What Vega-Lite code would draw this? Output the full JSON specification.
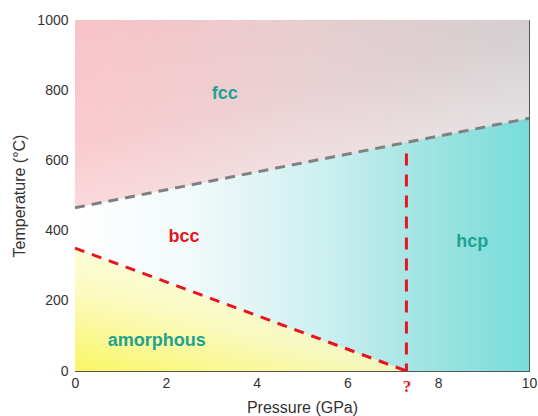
{
  "$schema": "https://vega.github.io/schema/vega-lite/v6.json",
  "width": 454,
  "height": 351,
  "autosize": "none",
  "padding": {"left": 75, "top": 20, "right": 9, "bottom": 45},
  "config": {
    "view": {"stroke": "#555555", "strokeWidth": 1},
    "font": "Liberation Sans",
    "axis": {
      "zindex": 1,
      "domainColor": "#555555",
      "tickColor": "#555555",
      "labelColor": "#333333",
      "titleColor": "#333333",
      "labelFont": "Liberation Sans",
      "titleFont": "Liberation Sans",
      "labelFontSize": 13,
      "titleFontSize": 16,
      "titleFontWeight": "normal",
      "labelFlush": false,
      "grid": false
    }
  },
  "layer": [
    {
      "data": {"values": [{"P0": 0, "P1": 10, "T0": 0, "T1": 1000}]},
      "mark": {
        "type": "rect",
        "fill": {
          "gradient": "linear", "x1": 0, "y1": 0, "x2": 1, "y2": 0,
          "stops": [
            {"offset": 0, "color": "#ffffff"},
            {"offset": 0.25, "color": "#f2fafa"},
            {"offset": 0.55, "color": "#cdeff0"},
            {"offset": 0.75, "color": "#a4e5e4"},
            {"offset": 1, "color": "#78dcd9"}
          ]
        }
      },
      "encoding": {
        "x": {"field": "P0", "type": "quantitative", "scale": {"domain": [0, 10], "nice": false},
          "axis": {
            "title": "Pressure (GPa)",
            "values": [0, 1, 2, 3, 4, 5, 6, 7, 7.3, 8, 9, 10],
            "labelExpr": "datum.value == 7.3 ? '?' : (datum.value % 2 == 0 ? datum.label : '')",
            "labelColor": {"condition": {"test": "datum.value == 7.3", "value": "#e8151f"}, "value": "#333333"},
            "labelFont": {"condition": {"test": "datum.value == 7.3", "value": "Liberation Serif"}, "value": "Liberation Sans"},
            "labelFontWeight": {"condition": {"test": "datum.value == 7.3", "value": "bold"}, "value": "normal"},
            "labelFontSize": {"condition": {"test": "datum.value == 7.3", "value": 17}, "value": 14},
            "tickOpacity": {"condition": {"test": "datum.value == 7.3", "value": 0}, "value": 1},
            "tickSize": {"condition": {"test": "datum.value % 2 == 0", "value": -5}, "value": -3},
            "labelFlush": false,
            "labelPadding": 10,
            "titleFontSize": 16,
            "titlePadding": 5
          }
        },
        "x2": {"field": "P1"},
        "y": {"field": "T0", "type": "quantitative", "scale": {"domain": [0, 1000], "nice": false},
          "axis": {
            "title": "Temperature (°C)",
            "values": [0, 100, 200, 300, 400, 500, 600, 700, 800, 900, 1000],
            "labelExpr": "datum.value % 200 == 0 ? datum.label : ''",
            "format": "d",
            "labelFontSize": 14,
            "labelFlush": false,
            "tickSize": {"condition": {"test": "datum.value % 200 == 0", "value": -5}, "value": -3},
            "labelPadding": 12,
            "titleFontSize": 16,
            "titlePadding": 9
          }
        },
        "y2": {"field": "T1"}
      }
    },
    {
      "data": {"values": [{"P": 0, "T": 465}, {"P": 10, "T": 720}]},
      "mark": {
        "type": "area",
        "fill": {
          "gradient": "linear", "x1": 0, "y1": 0, "x2": 1, "y2": 0,
          "stops": [
            {"offset": 0, "color": "#f9c3c8"},
            {"offset": 0.5, "color": "#e6c9cc"},
            {"offset": 1, "color": "#cdc8c9"}
          ]
        }
      },
      "encoding": {
        "x": {"field": "P", "type": "quantitative"},
        "y": {"field": "T", "type": "quantitative"},
        "y2": {"datum": 1000}
      }
    },
    {
      "data": {"values": [{"P": 0, "T": 465}, {"P": 10, "T": 720}]},
      "mark": {
        "type": "area",
        "fill": {
          "gradient": "linear", "x1": 0, "y1": 0, "x2": 0.6, "y2": 1,
          "stops": [
            {"offset": 0, "color": "rgba(255,255,255,0)"},
            {"offset": 0.5, "color": "rgba(255,255,255,0.15)"},
            {"offset": 1, "color": "rgba(255,255,255,0.6)"}
          ]
        }
      },
      "encoding": {
        "x": {"field": "P", "type": "quantitative"},
        "y": {"field": "T", "type": "quantitative"},
        "y2": {"datum": 1000}
      }
    },
    {
      "data": {"values": [{"P": 0, "T": 350}, {"P": 7.3, "T": 0}]},
      "mark": {
        "type": "area",
        "fill": {
          "gradient": "linear", "x1": 0, "y1": 1, "x2": 0.7, "y2": 0,
          "stops": [
            {"offset": 0, "color": "rgba(250,246,100,1)"},
            {"offset": 0.45, "color": "rgba(251,250,185,0.9)"},
            {"offset": 1, "color": "rgba(255,255,225,0.5)"}
          ]
        }
      },
      "encoding": {
        "x": {"field": "P", "type": "quantitative"},
        "y": {"field": "T", "type": "quantitative"},
        "y2": {"datum": 0}
      }
    },
    {
      "data": {"values": [{"P": 0, "T": 465}, {"P": 10, "T": 720}]},
      "mark": {"type": "line", "color": "#808080", "strokeWidth": 3, "strokeDash": [10, 7]},
      "encoding": {
        "x": {"field": "P", "type": "quantitative"},
        "y": {"field": "T", "type": "quantitative"}
      }
    },
    {
      "data": {"values": [{"P": 0, "T": 350}, {"P": 7.3, "T": 0}]},
      "mark": {"type": "line", "color": "#e8151f", "strokeWidth": 3, "strokeDash": [10, 8]},
      "encoding": {
        "x": {"field": "P", "type": "quantitative"},
        "y": {"field": "T", "type": "quantitative"}
      }
    },
    {
      "data": {"values": [{"P": 7.3, "T": 0, "T2": 620}]},
      "mark": {"type": "rule", "color": "#e8151f", "strokeWidth": 3, "strokeDash": [12, 9]},
      "encoding": {
        "x": {"field": "P", "type": "quantitative"},
        "y": {"field": "T2", "type": "quantitative"},
        "y2": {"field": "T"}
      }
    },
    {
      "data": {"values": [
        {"label": "fcc", "P": 3.3, "T": 790},
        {"label": "hcp", "P": 8.75, "T": 367},
        {"label": "amorphous", "P": 1.8, "T": 85}
      ]},
      "mark": {"type": "text", "color": "#1ea393", "fontSize": 18, "fontWeight": "bold", "font": "Liberation Sans"},
      "encoding": {
        "x": {"field": "P", "type": "quantitative"},
        "y": {"field": "T", "type": "quantitative"},
        "text": {"field": "label"}
      }
    },
    {
      "data": {"values": [{"label": "bcc", "P": 2.4, "T": 382}]},
      "mark": {"type": "text", "color": "#e8151f", "fontSize": 18, "fontWeight": "bold", "font": "Liberation Sans"},
      "encoding": {
        "x": {"field": "P", "type": "quantitative"},
        "y": {"field": "T", "type": "quantitative"},
        "text": {"field": "label"}
      }
    }
  ]
}
